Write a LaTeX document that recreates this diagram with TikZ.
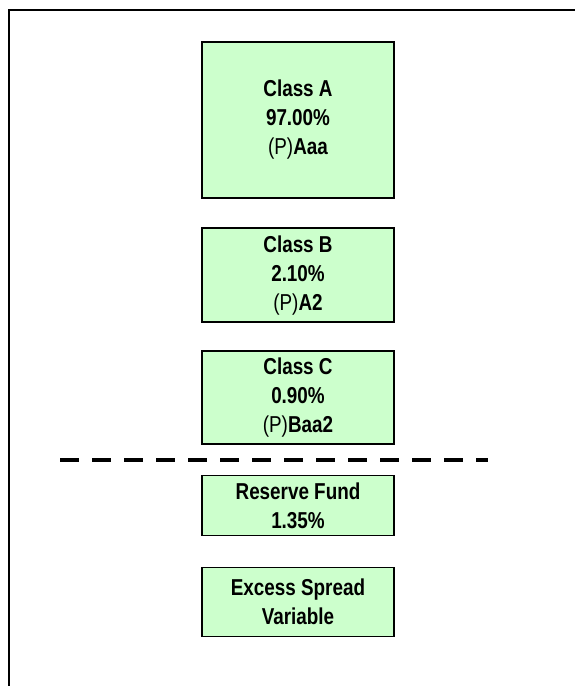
\documentclass[tikz,border=0pt]{standalone}
\usepackage{fontspec}
\setmainfont[FakeStretch=0.82]{Liberation Sans}
\usepackage{tikz}
\usetikzlibrary{positioning, calc}
\definecolor{tranchegreen}{HTML}{CCFFCC}
\tikzset{
    tranche/.style={rectangle, draw=black, line width=1.6pt, fill=tranchegreen, minimum width=192pt, text centered, align=center, inner sep=0pt, font=\fontsize{23}{29}\selectfont\bfseries},
    frameline/.style={line width=2pt, black},
    cutline/.style={line width=4.5pt, black, dash pattern=on 18.5pt off 13.5pt},
}

\begin{document}
\begin{tikzpicture}[
  rating/.style={font=\mdseries}
]
\useasboundingbox (0pt,0pt) rectangle (574pt,-686pt);
\coordinate (frametop) at (9pt,-10pt);
\coordinate (frameright) at (580pt,-10pt);
\coordinate (framebottom) at (9pt,-692pt);
\draw[frameline] (framebottom) -- (frametop) -- (frameright);

\node[tranche,minimum height=156pt] (classA) at (298pt,-120pt) {Class A\\97.00\%\\{\mdseries(P)}Aaa};
\node[tranche,minimum height=94pt,below=28.5pt of classA] (classB) {Class B\\2.10\%\\{\mdseries(P)}A2};
\node[tranche,minimum height=93pt,below=27.5pt of classB] (classC) {Class C\\0.90\%\\{\mdseries(P)}Baa2};
\node[tranche,minimum height=60pt,below=29.5pt of classC] (reserve) {Reserve Fund\\1.35\%};
\node[tranche,minimum height=69pt,below=30.5pt of reserve] (excess) {Excess Spread\\Variable};

\coordinate (cutmid) at ($(classC.south)!0.5!(reserve.north)$);
\coordinate (cutL) at (60pt,0 |- cutmid);
\coordinate (cutR) at (488pt,0 |- cutmid);
\draw[cutline] (cutL) -- (cutR);
\end{tikzpicture}
\end{document}
